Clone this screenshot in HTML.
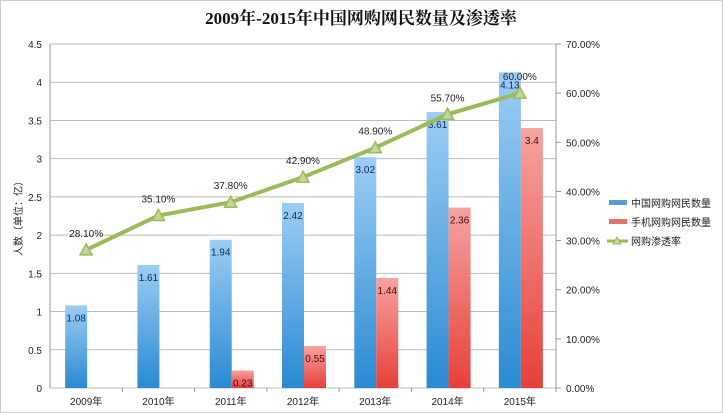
<!DOCTYPE html>
<html><head><meta charset="utf-8"><style>
body{margin:0;background:#fff;}
svg{display:block;font-family:"Liberation Sans","Noto Sans CJK SC",sans-serif;}
</style></head><body>
<svg id="c" width="723" height="413">
<defs>
<linearGradient id="gb" x1="0" y1="0" x2="0" y2="1"><stop offset="0" stop-color="#9ccdf4"/><stop offset="1" stop-color="#2a8ad3"/></linearGradient>
<linearGradient id="gr" x1="0" y1="0" x2="0" y2="1"><stop offset="0" stop-color="#f6a3a0"/><stop offset="1" stop-color="#e6403a"/></linearGradient>
</defs>
<rect x="0.5" y="0.5" width="722" height="412" fill="#fff" stroke="#ccc"/>
<text x="361" y="24" text-anchor="middle" font-size="17" font-weight="bold" font-family="'Liberation Serif','Noto Serif CJK SC',serif" fill="#111">2009年-2015年中国网购网民数量及渗透率</text>
<text transform="translate(22,216) rotate(-90)" text-anchor="middle" font-size="10" fill="#222">人数（单位：亿）</text>
<g id="g"></g>
</svg>
<script>
const categories=["2009年","2010年","2011年","2012年","2013年","2014年","2015年"];
const totalUsers=[1.08,1.61,1.94,2.42,3.02,3.61,4.13];
const mobileUsers=[null,null,0.23,0.55,1.44,2.36,3.4];
const rates=[28.1,35.1,37.8,42.9,48.9,55.7,60.0];
const leftTicks=[0,0.5,1,1.5,2,2.5,3,3.5,4,4.5];
const rightTicks=[0,10,20,30,40,50,60,70];
const L=50,R=556,T=44,B=388;
const bw=(R-L)/categories.length;
const yL=v=>B-v/4.5*(B-T);
const yR=v=>B-v/70*(B-T);
const xC=i=>L+bw*(i+0.5);
const NS="http://www.w3.org/2000/svg";
const g=document.getElementById('g');
function mk(t,a,txt){const e=document.createElementNS(NS,t);for(const k in a)e.setAttribute(k,a[k]);if(txt!=null)e.textContent=txt;g.appendChild(e);return e;}
leftTicks.forEach(v=>{
 const l=mk('line',{x1:L,x2:R,y1:yL(v),y2:yL(v),stroke:'#bbb','stroke-width':1});
 
 
 const t=mk('text',{x:L-8,y:yL(v)+4,'text-anchor':'end','font-size':10,fill:'#222'},String(v));
 
 
});
mk('line',{x1:L,x2:L,y1:T,y2:B,stroke:'#999'});
mk('line',{x1:R,x2:R,y1:T,y2:B,stroke:'#999'});
rightTicks.forEach(v=>{
 mk('line',{x1:R,x2:R+5,y1:yR(v),y2:yR(v),stroke:'#999'});
 const t=mk('text',{x:R+10,y:yR(v)+4,'font-size':10,fill:'#222'},v.toFixed(2)+'%');
 
 
});
categories.forEach((c,i)=>{
 mk('line',{x1:L+bw*(i+1),x2:L+bw*(i+1),y1:B,y2:B+4,stroke:'#999'});
 const t=mk('text',{x:xC(i),y:B+17,'text-anchor':'middle','font-size':10,fill:'#222'},c);
 
 
 const b=mk('rect',{x:xC(i)-21,y:yL(totalUsers[i]),width:22,height:B-yL(totalUsers[i]),fill:'url(#gb)'});
 
 
 const bt=mk('text',{x:xC(i)-10,y:yL(totalUsers[i])+16,'text-anchor':'middle','font-size':10,fill:'#0b2a55'},String(totalUsers[i]));
 
 
 if(mobileUsers[i]!=null){
  const r=mk('rect',{x:xC(i)+1,y:yL(mobileUsers[i]),width:22,height:B-yL(mobileUsers[i]),fill:'url(#gr)'});
  
  
  const rt=mk('text',{x:xC(i)+12,y:yL(mobileUsers[i])+16,'text-anchor':'middle','font-size':10,fill:'#4a0a0a'},String(mobileUsers[i]));
  
  
 }
});
const pl=mk('polyline',{points:rates.map((v,i)=>xC(i)+','+yR(v)).join(' '),fill:'none',stroke:'#9bbb59','stroke-width':4});


rates.forEach((v,i)=>{
 const x=xC(i),y=yR(v);
 const p=mk('polygon',{points:`${x},${y-6} ${x-6},${y+5} ${x+6},${y+5}`,fill:'#c3d69b',stroke:'#9bbb59','stroke-width':1.5});
 
 
 const t=mk('text',{x:x,y:y-13,'text-anchor':'middle','font-size':10,fill:'#222'},v.toFixed(2)+'%');
 
 
});
const leg=[["中国网购网民数量","#5b9bd5","bar"],["手机网购网民数量","#e8706b","bar"],["网购渗透率","#9bbb59","line"]];
leg.forEach((l,i)=>{
 const y=203+i*19;
 if(l[2]=="bar")mk('rect',{x:609,y:y-3,width:18,height:5,fill:l[1]});
 else{mk('line',{x1:607,x2:628,y1:y,y2:y,stroke:l[1],'stroke-width':3});mk('polygon',{points:`617,${y-4} 613,${y+3} 621,${y+3}`,fill:'#c3d69b',stroke:l[1]});}
 const t=mk('text',{x:631,y:y+4,'font-size':10,fill:'#222'},l[0]);
 
 
});
</script>
</body></html>
